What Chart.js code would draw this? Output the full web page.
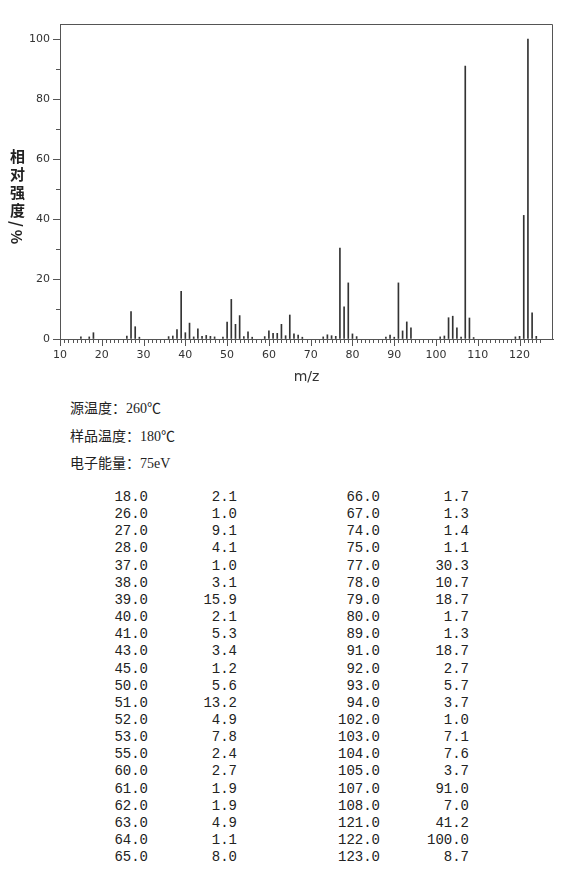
<!DOCTYPE html>
<html>
<head>
<meta charset="utf-8">
<script src="https://cdn.jsdelivr.net/npm/chart.js@4"></script>
<style>
body { margin:0; background:#fff; width:570px; height:882px; position:relative; overflow:hidden; }
#wrap { position:absolute; left:0; top:0; width:570px; height:390px; }
#ytitle { position:absolute; left:9px; top:149px; writing-mode:vertical-rl; font-family:"Noto Sans CJK SC"; font-weight:bold; font-size:15px; letter-spacing:3px; color:#222; line-height:17px; }
.info { position:absolute; left:70px; font-family:"Liberation Serif","Noto Sans CJK SC"; font-size:14px; color:#222; }
.cell { position:absolute; font-family:"Liberation Mono",monospace; font-size:14px; color:#222; line-height:18px; text-align:right; }
</style>
</head>
<body>
<div id="wrap"><canvas id="ms" width="570" height="390"></canvas></div>
<div id="ytitle">相对强度/%</div>
<div class="info" style="top:397px">源温度：260℃</div>
<div class="info" style="top:425px">样品温度：180℃</div>
<div class="info" style="top:452px">电子能量：75eV</div>
<div id="table"></div>
<script>
// peaks listed in the table (m/z, relative intensity)
const mzList = [18,26,27,28,37,38,39,40,41,43,45,50,51,52,53,55,60,61,62,63,64,65,
                66,67,74,75,77,78,79,80,89,91,92,93,94,102,103,104,105,107,108,121,122,123];
const intList = [2.1,1.0,9.1,4.1,1.0,3.1,15.9,2.1,5.3,3.4,1.2,5.6,13.2,4.9,7.8,2.4,2.7,1.9,1.9,4.9,1.1,8.0,
                 1.7,1.3,1.4,1.1,30.3,10.7,18.7,1.7,1.3,18.7,2.7,5.7,3.7,1.0,7.1,7.6,3.7,91.0,7.0,41.2,100.0,8.7];
// small peaks (<1%) seen only on the plot
const minorMz = [15,17,29,36,42,44,46,47,49,54,56,59,68,73,76,81,88,90,101,106,109,119,120,124];
const minorInt = [0.7,0.7,0.6,0.8,0.7,0.9,0.9,0.7,0.6,0.8,0.6,0.8,0.6,0.7,0.9,0.8,0.6,0.6,0.7,0.6,0.5,0.7,0.9,0.9];

const yLabels = [0,20,40,60,80,100];

// table below the chart, two column pairs of 22 rows
const tbl = document.getElementById('table');
const half = 22;
for (let i = 0; i < half; i++) {
    const top = 488 + 17.15*i;
    const cols = [[mzList[i],148],[intList[i],237],[mzList[i+half],380],[intList[i+half],469]];
    cols.forEach(c=>{
        if (c[0] === undefined) return;
        const d = document.createElement('div');
        d.className = 'cell';
        d.style.top = top + 'px';
        d.style.right = (570 - c[1]) + 'px';
        d.textContent = c[0].toFixed(1);
        tbl.appendChild(d);
    });
}
</script>
<script>
const points = mzList.map((m,i)=>({x:m, y:intList[i]}))
    .concat(minorMz.map((m,i)=>({x:m, y:minorInt[i]})));

const axisColor = '#555';

const frame = {
    id:'frame',
    afterDraw(chart){
        const {ctx, chartArea:a, scales} = chart;
        ctx.save();
        ctx.strokeStyle = axisColor;
        ctx.lineWidth = 1;
        ctx.beginPath();
        ctx.moveTo(a.left+0.5, a.bottom); ctx.lineTo(a.left+0.5, a.top+0.5);
        ctx.lineTo(a.right-0.5, a.top+0.5); ctx.lineTo(a.right-0.5, a.bottom);
        ctx.stroke();
        // x ticks: every unit, longer every 10
        ctx.beginPath();
        for (let v = 10; v <= 125; v++) {
            const px = Math.round(scales.x.getPixelForValue(v)) + 0.5;
            const len = v % 10 === 0 ? 7 : 4;
            ctx.moveTo(px, a.bottom); ctx.lineTo(px, a.bottom + len);
        }
        // minor y ticks
        for (let v = 10; v <= 90; v += 20) {
            const py = Math.round(scales.y.getPixelForValue(v)) + 0.5;
            ctx.moveTo(a.left, py); ctx.lineTo(a.left - 4, py);
        }
        ctx.stroke();
        ctx.restore();
    }
};

new Chart(document.getElementById('ms'), {
    type:'bar',
    data:{ datasets:[{ data:points, backgroundColor:'#333', barThickness:1, borderWidth:0 }] },
    options:{
        responsive:false,
        animation:false,
        layout:{ padding:{ top:24, right:17, left:0, bottom:0 } },
        plugins:{ legend:{display:false}, tooltip:{enabled:false} },
        scales:{
            x:{
                type:'linear', min:10, max:128, offset:false,
                grid:{ display:false, drawTicks:false, offset:false },
                border:{ color:axisColor },
                ticks:{ stepSize:10, includeBounds:false, padding:10,
                        color:'#333', font:{family:'DejaVu Sans', size:11},
                        callback:v => v <= 120 ? v : '' },
                title:{ display:true, text:'m/z', color:'#333', font:{family:'DejaVu Sans', size:14}, padding:{top:6} },
                afterFit:s => { s.height = 51; }
            },
            y:{
                min:0, max:105,
                grid:{ drawOnChartArea:false, tickLength:7, color:axisColor },
                border:{ color:axisColor },
                afterBuildTicks:s => { s.ticks = yLabels.map(v=>({value:v})); },
                ticks:{ color:'#333', font:{family:'DejaVu Sans', size:11}, padding:3 },
                afterFit:s => { s.width = 60; }
            }
        }
    },
    plugins:[frame]
});
</script>
</body>
</html>
